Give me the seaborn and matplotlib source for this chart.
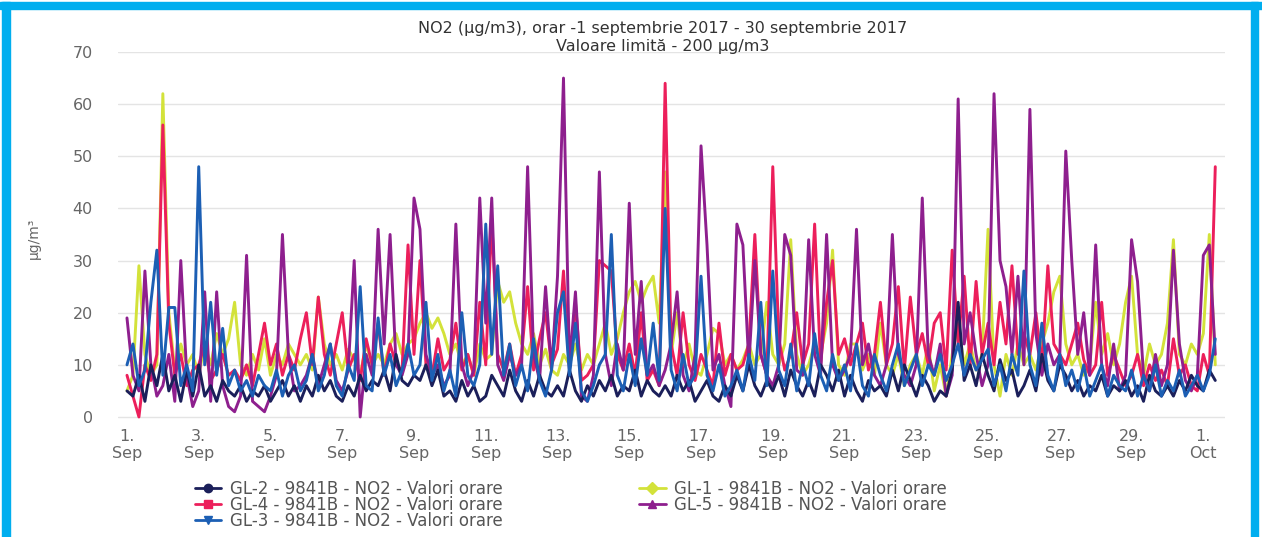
import matplotlib
matplotlib.use("Agg")
import matplotlib.pyplot as plt
import numpy as np
import pandas as pd
import seaborn as sns
from matplotlib.lines import Line2D
from matplotlib.patches import Rectangle

# ---------------- data (4-hourly samples) ----------------
start_time = "2017-09-01 00:00"
step = "4h"

gl2 = [5, 4, 8, 3, 10, 6,   12, 5, 8, 3, 9, 4,   10, 4, 6, 3, 7, 5,   4, 6, 3, 5, 4, 6,
       3, 5, 7, 4, 6, 3,    6, 4, 8, 5, 7, 4,    3, 6, 4, 8, 5, 7,    6, 9, 5, 12, 7, 6,
       8, 7, 10, 6, 9, 4,   5, 3, 7, 4, 6, 3,    4, 8, 6, 4, 9, 5,    3, 7, 4, 8, 5, 4,
       6, 4, 9, 5, 3, 6,    4, 7, 5, 8, 4, 6,    5, 9, 4, 7, 5, 4,    6, 4, 8, 5, 7, 3,
       5, 7, 4, 3, 6, 4,    8, 5, 10, 6, 4, 7,   5, 8, 4, 9, 6, 4,    7, 4, 10, 8, 5, 9,
       4, 8, 5, 3, 7, 5,    6, 4, 9, 5, 10, 7,   4, 8, 6, 3, 5, 4,    9, 22, 7, 10, 6, 12,
       8, 5, 11, 7, 9, 4,   6, 9, 5, 12, 7, 5,   10, 8, 5, 7, 4, 6,   5, 8, 4, 6, 5, 7,
       4, 6, 3, 8, 5, 4,    6, 4, 7, 5, 8, 6,    5, 9, 7]

gl4 = [8, 4, 0, 10, 7, 12,  56, 18, 8, 12, 6, 9,  10, 14, 7, 9, 12, 8,  9, 7, 10, 6, 12, 18,
       10, 14, 8, 12, 9, 15, 20, 10, 23, 12, 8, 14, 20, 9, 12, 7, 15, 10, 18, 8, 14, 10, 9, 33,
       12, 30, 10, 8, 15, 9, 11, 18, 9, 12, 8, 22, 10, 38, 12, 9, 14, 8, 12, 25, 9, 15, 20, 10,
       13, 28, 9, 22, 7, 8,  10, 30, 29, 28, 12, 9, 14, 8, 20, 7, 9, 6,  64, 14, 8, 20, 10, 7,
       12, 9, 6, 18, 8, 12,  9, 10, 14, 35, 12, 8, 48, 15, 9, 12, 20, 10, 14, 37, 10, 22, 30, 12,
       15, 10, 14, 18, 9, 12, 22, 10, 14, 25, 9, 23, 12, 16, 10, 18, 20, 9, 32, 14, 27, 10, 26, 12,
       18, 10, 22, 14, 29, 12, 16, 12, 20, 10, 29, 14, 12, 10, 14, 18, 11, 8, 10, 22, 8, 12, 9, 6,
       8, 12, 6, 10, 7, 9,   6, 15, 8, 10, 6, 5,  12, 8, 48]

gl3 = [10, 14, 6, 9, 22, 32, 8, 21, 21, 6, 10, 5, 48, 10, 22, 8, 17, 6, 9, 5, 7, 4, 8, 6,
       5, 9, 4, 8, 10, 5,    7, 12, 5, 8, 14, 6,  4, 10, 7, 25, 6, 5,  19, 8, 12, 6, 9, 14,
       8, 10, 22, 7, 12, 5,  9, 4, 20, 8, 6, 10,  37, 12, 29, 8, 14, 6, 10, 5, 15, 7, 4, 9,
       20, 24, 8, 18, 5, 3,  6, 10, 12, 35, 8, 5, 12, 6, 15, 8, 18, 7, 40, 9, 5, 12, 6, 8,
       27, 8, 5, 10, 4, 6,   9, 5, 12, 7, 22, 6,  28, 9, 6, 14, 5, 10, 6, 16, 8, 5, 12, 7,
       10, 5, 14, 6, 4, 12,  8, 5, 10, 14, 6, 9,  12, 6, 10, 8, 12, 7, 10, 14, 8, 12, 9, 11,
       13, 6, 10, 5, 12, 8,  28, 10, 6, 18, 8, 5, 12, 6, 9, 5, 10, 4,  7, 10, 4, 8, 6, 5,
       9, 4, 8, 5, 10, 4,    7, 5, 9, 4, 6, 8,    5, 8, 15]

gl1 = [5, 8, 29, 12, 8, 10, 62, 20, 9, 14, 10, 12, 8, 14, 10, 16, 12, 15, 22, 10, 8, 12, 9, 15,
       8, 12, 10, 14, 12, 10, 12, 9, 23, 14, 10, 12, 9, 13, 11, 8, 14, 10, 12, 10, 14, 16, 12, 14,
       15, 18, 20, 17, 19, 16, 12, 14, 10, 12, 8, 14, 11, 12, 26, 22, 24, 18, 14, 12, 16, 10, 13, 9,
       8, 12, 10, 14, 9, 12, 10, 14, 18, 12, 15, 20, 24, 26, 22, 25, 27, 18, 47, 12, 20, 10, 14, 9,
       8, 12, 17, 16, 10, 12, 9, 11, 14, 10, 12, 22, 12, 10, 14, 34, 12, 8, 10, 14, 12, 18, 32, 10,
       8, 14, 14, 9, 12, 8,  18, 10, 8, 12, 6, 10, 12, 8, 14, 5, 10, 4, 12, 18, 10, 14, 9, 12,
       36, 10, 4, 12, 8, 14, 10, 12, 9, 14, 18, 24, 27, 14, 10, 12, 8, 10, 22, 12, 16, 10, 14, 22,
       27, 12, 8, 14, 10, 12, 18, 34, 12, 10, 14, 12, 16, 35, 10]

gl5 = [19, 8, 5, 28, 10, 4, 6, 12, 3, 30, 8, 2,  5, 24, 3, 24, 6, 2,   1, 4, 31, 3, 2, 1,
       4, 8, 35, 12, 5, 6,  8, 12, 6, 10, 14, 7,  5, 9, 30, 0, 12, 8,  36, 14, 35, 10, 8, 12,
       42, 36, 12, 8, 10, 6, 8, 37, 10, 6, 9, 42, 18, 42, 10, 7, 12, 8, 10, 48, 12, 7, 25, 9,
       27, 65, 10, 24, 4, 3, 8, 47, 12, 6, 14, 9, 41, 12, 26, 8, 10, 6, 9, 14, 24, 8, 5, 12,
       52, 33, 9, 12, 6, 2,  37, 33, 10, 30, 12, 8, 6, 10, 35, 31, 9, 8, 34, 12, 8, 35, 10, 7,
       9, 12, 36, 10, 14, 8, 6, 10, 35, 12, 8, 6, 10, 42, 12, 8, 14, 4, 8, 61, 14, 20, 12, 6,
       10, 62, 30, 25, 12, 27, 10, 59, 16, 8, 14, 10, 12, 51, 30, 12, 20, 8, 33, 10, 6, 14, 5, 8,
       34, 26, 8, 5, 12, 6, 10, 32, 14, 7, 5, 8,  31, 33, 12]

series_names = {
    "GL-2": "GL-2 - 9841B - NO2 - Valori orare",
    "GL-4": "GL-4 - 9841B - NO2 - Valori orare",
    "GL-3": "GL-3 - 9841B - NO2 - Valori orare",
    "GL-1": "GL-1 - 9841B - NO2 - Valori orare",
    "GL-5": "GL-5 - 9841B - NO2 - Valori orare",
}
values = {"GL-2": gl2, "GL-4": gl4, "GL-3": gl3, "GL-1": gl1, "GL-5": gl5}
colors = {"GL-2": "#1b1f5a", "GL-4": "#ec1f5b", "GL-3": "#1c5fb4",
          "GL-1": "#d3e23a", "GL-5": "#8e1f8e"}
markers = {"GL-2": "o", "GL-4": "s", "GL-3": "v", "GL-1": "D", "GL-5": "^"}
legend_order = ["GL-2", "GL-4", "GL-3", "GL-1", "GL-5"]
draw_order = ["GL-1", "GL-4", "GL-5", "GL-2", "GL-3"]

title1 = "NO2 (µg/m3), orar -1 septembrie 2017 - 30 septembrie 2017"
title2 = "Valoare limită - 200 µg/m3"
y_label = "µg/m³"
y_ticks = [0, 10, 20, 30, 40, 50, 60, 70]

# ---------------- build frame ----------------
frames = []
for key, vals in values.items():
    t = pd.date_range(start_time, periods=len(vals), freq=step)
    frames.append(pd.DataFrame({"time": t, "value": vals, "series": key}))
df = pd.concat(frames, ignore_index=True)

sns.set_theme(style="white")
plt.rcParams["font.family"] = ["DejaVu Sans"]

W, H = 1262, 537
fig = plt.figure(figsize=(W / 100, H / 100), dpi=100)
ax = fig.add_axes([118 / W, 1 - 424.8 / H, 1107 / W, (424.8 - 52) / H])

sns.lineplot(data=df, x="time", y="value", hue="series", hue_order=draw_order,
             palette=colors, estimator=None, legend=False, linewidth=2.1, ax=ax)

ax.set_ylim(-1.5, 70)
ax.set_yticks(y_ticks)
ax.set_yticklabels([str(v) for v in y_ticks])
ax.set_xlim(pd.Timestamp("2017-08-31 18:00"), pd.Timestamp("2017-10-01 14:30"))
xt = pd.date_range("2017-09-01", "2017-10-01", freq="2D")
ax.set_xticks(xt)
ax.set_xticklabels([f"{d.day}.\n{d.strftime('%b')}" for d in xt], linespacing=1.15)

ax.grid(axis="y", color="#e4e4e4", linewidth=1.0)
ax.grid(axis="x", visible=False)
ax.set_axisbelow(True)
for s in ax.spines.values():
    s.set_visible(False)
ax.tick_params(axis="y", length=0, pad=18, labelsize=11.5, labelcolor="#666666")
ax.tick_params(axis="x", length=0, pad=3, labelsize=11.5, labelcolor="#666666")
for lbl in ax.get_yticklabels():
    lbl.set_horizontalalignment("right")
ax.set_xlabel("")
ax.set_ylabel(y_label, fontsize=10, color="#666666")
ax.yaxis.set_label_coords(-0.07, 0.5)

fig.text(663 / W, 1 - 29 / H, title1, ha="center", va="center", fontsize=11.5, color="#333333")
fig.text(663 / W, 1 - 47 / H, title2, ha="center", va="center", fontsize=11.5, color="#333333")

handles = [Line2D([0], [0], color=colors[k], lw=2.0, marker=markers[k], markersize=6,
                  markeredgecolor=colors[k]) for k in legend_order]
labels = [series_names[k] for k in legend_order]
fig.legend(handles, labels, ncol=2, loc="upper left", bbox_to_anchor=(193 / W, 1 - 478 / H),
           frameon=False, fontsize=12, labelcolor="#555555", labelspacing=-0.1,
           handlelength=1.6, handletextpad=0.5, columnspacing=8.2, borderpad=0.1,
           borderaxespad=0.0)

cyan = "#00aeef"
fig.patches.append(Rectangle((0, 1 - 9 / H), 1, 7 / H, transform=fig.transFigure,
                             color=cyan, zorder=10))
fig.patches.append(Rectangle((2 / W, 0), 8 / W, 1 - 2 / H, transform=fig.transFigure,
                             color=cyan, zorder=10))
fig.patches.append(Rectangle((1251 / W, 0), 7 / W, 1 - 2 / H, transform=fig.transFigure,
                             color=cyan, zorder=10))

fig.savefig("out.png", dpi=100, facecolor="white")
